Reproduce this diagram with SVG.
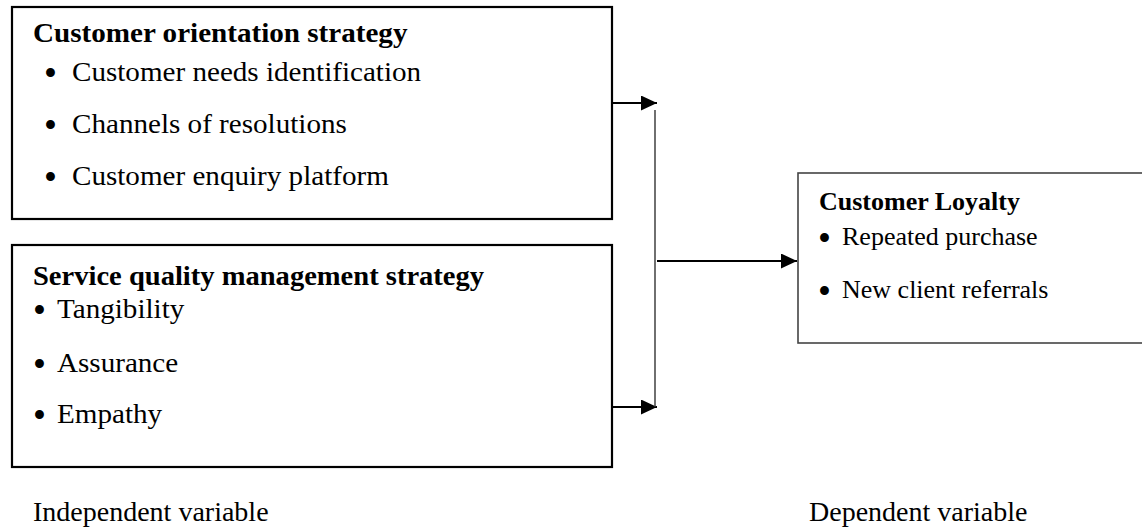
<svg xmlns="http://www.w3.org/2000/svg" width="1142" height="527" viewBox="0 0 1142 527">
<style>
.box{fill:#fff;stroke:#000;stroke-width:2.2}
.box2{fill:#fff;stroke:#444;stroke-width:1.6}
.t{font-family:"Liberation Serif","Times New Roman",serif;font-size:28px;fill:#000}
.r{font-size:26px}
.b{font-weight:bold}
.bu{font-family:"Liberation Serif","Times New Roman",serif;font-size:37px;fill:#000}
.conn{stroke:#000;stroke-width:2;fill:none}
.vline{stroke:#333;stroke-width:1.4;fill:none}
</style>
<defs>
<marker id="ah" markerWidth="16" markerHeight="15" refX="16" refY="7.5" orient="auto" markerUnits="userSpaceOnUse">
<path d="M0,0 L16,7.5 L0,15 Z" fill="#000"/>
</marker>
</defs>
<g id="node-customer-orientation">
<rect class="box" x="12" y="7" width="600" height="212"/>
<text class="t b" transform="translate(33,42) scale(1.04,1)">Customer orientation strategy</text>
<text class="bu" x="44" y="86">•</text>
<text class="t" transform="translate(72,81) scale(1.04,1)">Customer needs identification</text>
<text class="bu" x="44" y="138">•</text>
<text class="t" transform="translate(72,133) scale(1.04,1)">Channels of resolutions</text>
<text class="bu" x="44" y="190">•</text>
<text class="t" transform="translate(72,185) scale(1.04,1)">Customer enquiry platform</text>
</g>
<g id="node-service-quality">
<rect class="box" x="12" y="245" width="600" height="222"/>
<text class="t b" transform="translate(33,285) scale(1.02,1)">Service quality management strategy</text>
<text class="bu" x="33" y="323">•</text>
<text class="t" transform="translate(57,318) scale(1.04,1)">Tangibility</text>
<text class="bu" x="33" y="377">•</text>
<text class="t" transform="translate(57,372) scale(1.04,1)">Assurance</text>
<text class="bu" x="33" y="428">•</text>
<text class="t" transform="translate(57,423) scale(1.04,1)">Empathy</text>
</g>
<g id="node-customer-loyalty">
<rect class="box2" x="798" y="173" width="400" height="170"/>
<text class="t r b" x="819" y="210">Customer Loyalty</text>
<text class="bu" x="818" y="251">•</text>
<text class="t r" x="842" y="245">Repeated purchase</text>
<text class="bu" x="818" y="304">•</text>
<text class="t r" x="842" y="298">New client referrals</text>
</g>
<g id="connectors">
<line class="conn" x1="612" y1="103" x2="657" y2="103" marker-end="url(#ah)"/>
<line class="conn" x1="612" y1="407" x2="657" y2="407" marker-end="url(#ah)"/>
<line class="vline" x1="655" y1="110" x2="655" y2="407"/>
<line class="conn" x1="657" y1="261" x2="797" y2="261" marker-end="url(#ah)"/>
</g>
<g id="labels">
<text class="t" x="33" y="521">Independent variable</text>
<text class="t" x="809" y="521">Dependent variable</text>
</g>
</svg>
